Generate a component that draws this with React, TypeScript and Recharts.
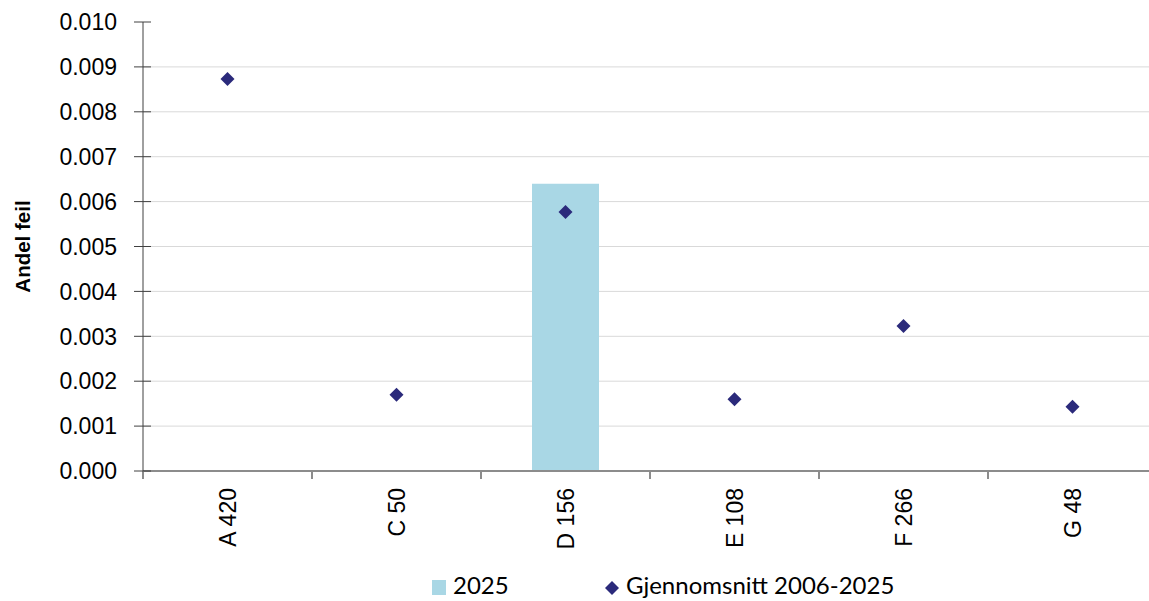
import React from 'react';
import { ComposedChart, Bar, Line, XAxis, YAxis, CartesianGrid, Legend } from 'recharts';

const categories = ['A 420', 'C 50', 'D 156', 'E 108', 'F 266', 'G 48'];
const values2025 = [null, null, 0.0064, null, null, null];
const average20062025 = [0.00873, 0.0017, 0.00577, 0.0016, 0.00323, 0.00143];
const yTicks = [0, 0.001, 0.002, 0.003, 0.004, 0.005, 0.006, 0.007, 0.008, 0.009, 0.01];
const gridValues = [0.001, 0.002, 0.003, 0.004, 0.005, 0.006, 0.007, 0.008, 0.009];

const data = categories.map((c, i) => ({ cat: c, y2025: values2025[i], avg: average20062025[i] }));

const BAR_COLOR = '#a9d7e5';
const DIAMOND_COLOR = '#2b2a7b';
const TICK_FONT = '"Liberation Sans", Arial, sans-serif';
const LEGEND_FONT = 'Lato, "Open Sans", sans-serif';

const Diamond = (props: any) => {
  const { cx, cy } = props;
  if (cx == null || cy == null) return null;
  const r = 7;
  return (
    <polygon
      points={`${cx},${cy - r} ${cx + r},${cy} ${cx},${cy + r} ${cx - r},${cy}`}
      fill={DIAMOND_COLOR}
    />
  );
};

const YTick = (props: any) => {
  const { x, y, payload } = props;
  return (
    <g>
      <line x1={x - 9} x2={x + 8} y1={y} y2={y} stroke="#404040" strokeWidth={1} />
      <text x={x - 26} y={y} dy="0.36em" textAnchor="end" fill="#000" fontSize={23} fontFamily={TICK_FONT}>
        {Number(payload.value).toFixed(3)}
      </text>
    </g>
  );
};

const XTick = (props: any) => {
  const { x, y, payload, width } = props;
  const half = (width ?? 1014) / (2 * categories.length);
  const isLast = payload.index === categories.length - 1;
  return (
    <g>
      <line x1={x - half} x2={x - half} y1={y} y2={y + 8} stroke="#8c8c8c" strokeWidth={2} />
      {isLast && <line x1={x + half} x2={x + half} y1={y} y2={y + 8} stroke="#8c8c8c" strokeWidth={2} />}
      <text
        x={x}
        y={y + 17}
        dy="0.36em"
        textAnchor="end"
        fill="#000"
        fontSize={23}
        fontFamily={TICK_FONT}
        transform={`rotate(-90, ${x}, ${y + 17})`}
      >
        {payload.value}
      </text>
    </g>
  );
};

const YLabel = (props: any) => {
  const vb = props.viewBox || { x: 0, y: 22, width: 143, height: 449 };
  const cx = vb.x + 30;
  const cy = vb.y + vb.height / 2;
  return (
    <text
      x={cx}
      y={cy}
      textAnchor="middle"
      fontSize={20.5}
      fontWeight="bold"
      fontFamily={TICK_FONT}
      fill="#000"
      transform={`rotate(-90, ${cx}, ${cy})`}
    >
      Andel feil
    </text>
  );
};

const LegendContent = () => (
  <div style={{ position: 'relative', width: 1160, height: 30, fontFamily: LEGEND_FONT, fontSize: 24, color: '#000' }}>
    <div style={{ position: 'absolute', left: 432, top: 13, width: 14, height: 15, background: BAR_COLOR }} />
    <span style={{ position: 'absolute', left: 453, top: 6, lineHeight: '24px' }}>2025</span>
    <svg style={{ position: 'absolute', left: 604, top: 13 }} width={16} height={16}>
      <polygon points="8,1 15,8 8,15 1,8" fill={DIAMOND_COLOR} />
    </svg>
    <span style={{ position: 'absolute', left: 626, top: 6, lineHeight: '24px' }}>Gjennomsnitt 2006-2025</span>
  </div>
);

export default function App() {
  return (
    <div style={{ position: 'absolute', left: 0, top: 0, width: 1149, height: 601, overflow: 'hidden', background: '#fff' }}>
      <ComposedChart
        width={1160}
        height={601}
        data={data}
        margin={{ top: 22, right: 3, bottom: 10, left: 0 }}
        barCategoryGap={0}
      >
        <CartesianGrid vertical={false} stroke="#d9d9d9" horizontalValues={gridValues} />
        <XAxis
          dataKey="cat"
          type="category"
          height={90}
          interval={0}
          tickLine={false}
          tickSize={0}
          tickMargin={0}
          axisLine={{ stroke: '#8c8c8c', strokeWidth: 2 }}
          tick={<XTick />}
        />
        <YAxis
          type="number"
          domain={[0, 0.01]}
          ticks={yTicks}
          width={143}
          tickLine={false}
          tickSize={0}
          tickMargin={0}
          axisLine={{ stroke: '#404040', strokeWidth: 1 }}
          tick={<YTick />}
          label={<YLabel />}
          allowDataOverflow
        />
        <Legend
          verticalAlign="bottom"
          height={30}
          content={<LegendContent />}
          wrapperStyle={{ position: 'absolute', left: 0, top: 567, width: 1160, height: 30 }}
        />
        <Bar dataKey="y2025" name="2025" fill={BAR_COLOR} barSize={67} isAnimationActive={false} />
        <Line
          dataKey="avg"
          name="Gjennomsnitt 2006-2025"
          stroke="none"
          dot={<Diamond />}
          activeDot={false}
          isAnimationActive={false}
        />
      </ComposedChart>
    </div>
  );
}
